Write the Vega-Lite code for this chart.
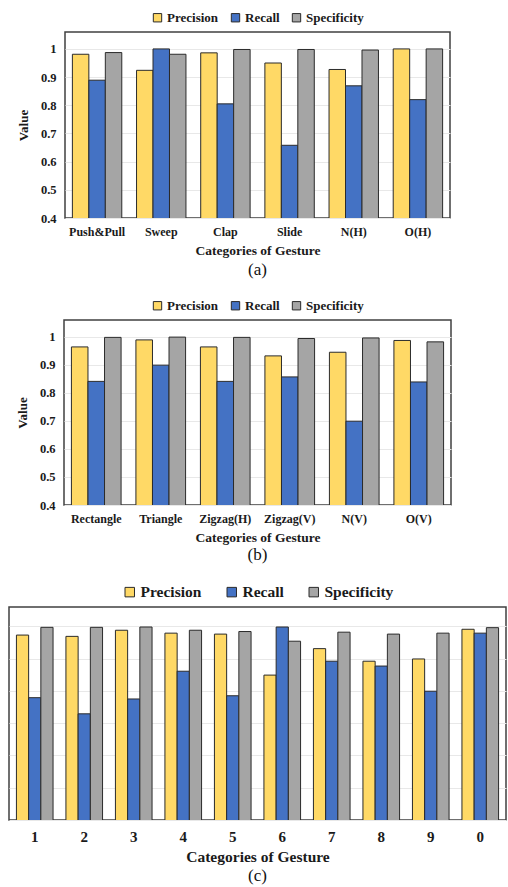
{
  "$schema": "https://vega.github.io/schema/vega-lite/v6.json",
  "autosize": {"type": "pad"},
  "padding": {"left": 8, "top": 10, "right": 0, "bottom": 0},
  "background": "white",
  "datasets": {
    "a": [
      {"g": "Push&Pull", "m": "Precision", "v": 0.981}, {"g": "Push&Pull", "m": "Recall", "v": 0.889}, {"g": "Push&Pull", "m": "Specificity", "v": 0.987},
      {"g": "Sweep", "m": "Precision", "v": 0.924}, {"g": "Sweep", "m": "Recall", "v": 1.0}, {"g": "Sweep", "m": "Specificity", "v": 0.981},
      {"g": "Clap", "m": "Precision", "v": 0.986}, {"g": "Clap", "m": "Recall", "v": 0.805}, {"g": "Clap", "m": "Specificity", "v": 0.998},
      {"g": "Slide", "m": "Precision", "v": 0.95}, {"g": "Slide", "m": "Recall", "v": 0.658}, {"g": "Slide", "m": "Specificity", "v": 0.998},
      {"g": "N(H)", "m": "Precision", "v": 0.927}, {"g": "N(H)", "m": "Recall", "v": 0.869}, {"g": "N(H)", "m": "Specificity", "v": 0.996},
      {"g": "O(H)", "m": "Precision", "v": 1.0}, {"g": "O(H)", "m": "Recall", "v": 0.82}, {"g": "O(H)", "m": "Specificity", "v": 1.0}
    ],
    "b": [
      {"g": "Rectangle", "m": "Precision", "v": 0.964}, {"g": "Rectangle", "m": "Recall", "v": 0.841}, {"g": "Rectangle", "m": "Specificity", "v": 0.998},
      {"g": "Triangle", "m": "Precision", "v": 0.989}, {"g": "Triangle", "m": "Recall", "v": 0.899}, {"g": "Triangle", "m": "Specificity", "v": 0.999},
      {"g": "Zigzag(H)", "m": "Precision", "v": 0.964}, {"g": "Zigzag(H)", "m": "Recall", "v": 0.841}, {"g": "Zigzag(H)", "m": "Specificity", "v": 0.998},
      {"g": "Zigzag(V)", "m": "Precision", "v": 0.932}, {"g": "Zigzag(V)", "m": "Recall", "v": 0.857}, {"g": "Zigzag(V)", "m": "Specificity", "v": 0.994},
      {"g": "N(V)", "m": "Precision", "v": 0.945}, {"g": "N(V)", "m": "Recall", "v": 0.699}, {"g": "N(V)", "m": "Specificity", "v": 0.996},
      {"g": "O(V)", "m": "Precision", "v": 0.987}, {"g": "O(V)", "m": "Recall", "v": 0.839}, {"g": "O(V)", "m": "Specificity", "v": 0.982}
    ],
    "c": [
      {"g": "1", "m": "Precision", "v": 0.973}, {"g": "1", "m": "Recall", "v": 0.779}, {"g": "1", "m": "Specificity", "v": 0.997},
      {"g": "2", "m": "Precision", "v": 0.969}, {"g": "2", "m": "Recall", "v": 0.729}, {"g": "2", "m": "Specificity", "v": 0.997},
      {"g": "3", "m": "Precision", "v": 0.988}, {"g": "3", "m": "Recall", "v": 0.775}, {"g": "3", "m": "Specificity", "v": 0.998},
      {"g": "4", "m": "Precision", "v": 0.979}, {"g": "4", "m": "Recall", "v": 0.861}, {"g": "4", "m": "Specificity", "v": 0.988},
      {"g": "5", "m": "Precision", "v": 0.976}, {"g": "5", "m": "Recall", "v": 0.785}, {"g": "5", "m": "Specificity", "v": 0.984},
      {"g": "6", "m": "Precision", "v": 0.849}, {"g": "6", "m": "Recall", "v": 0.998}, {"g": "6", "m": "Specificity", "v": 0.954},
      {"g": "7", "m": "Precision", "v": 0.931}, {"g": "7", "m": "Recall", "v": 0.892}, {"g": "7", "m": "Specificity", "v": 0.982},
      {"g": "8", "m": "Precision", "v": 0.892}, {"g": "8", "m": "Recall", "v": 0.877}, {"g": "8", "m": "Specificity", "v": 0.976},
      {"g": "9", "m": "Precision", "v": 0.899}, {"g": "9", "m": "Recall", "v": 0.799}, {"g": "9", "m": "Specificity", "v": 0.979},
      {"g": "0", "m": "Precision", "v": 0.991}, {"g": "0", "m": "Recall", "v": 0.979}, {"g": "0", "m": "Specificity", "v": 0.996}
    ]
  },
  "spacing": 102,
  "bounds": "flush",
  "center": true,
  "resolve": {"scale": {"x": "independent", "y": "independent", "color": "independent", "xOffset": "independent"}, "legend": {"color": "independent"}},
  "vconcat": [
    {
      "data": {"name": "a"},
      "width": 385,
      "height": 186,
      "title": {"text": "(a)", "orient": "bottom", "anchor": "middle", "font": "Liberation Serif, Times New Roman, serif", "fontSize": 17, "fontWeight": "normal", "color": "#111", "offset": 5},
      "mark": {"type": "bar", "stroke": "#2b2b2b", "strokeWidth": 1, "clip": true},
      "encoding": {
        "x": {"field": "g", "type": "nominal", "sort": null, "title": "Categories of Gesture",
              "scale": {"paddingInner": 0.23, "paddingOuter": 0.115},
              "axis": {"labelAngle": 0, "labelFontSize": 12, "titleFontSize": 13.5, "labelPadding": 8, "titlePadding": 6}},
        "xOffset": {"field": "m", "type": "nominal", "sort": ["Precision", "Recall", "Specificity"], "scale": {"paddingInner": 0, "paddingOuter": 0}},
        "y": {"field": "v", "type": "quantitative", "title": "Value",
              "scale": {"domain": [0.4, 1.06], "nice": false, "zero": false},
              "axis": {"values": [0.4, 0.5, 0.6, 0.7, 0.8, 0.9, 1.0], "format": ".1~f", "labelFontSize": 12.5, "titleFontSize": 13, "labelPadding": 9, "titlePadding": 10}},
        "color": {"field": "m", "type": "nominal",
                  "scale": {"domain": ["Precision", "Recall", "Specificity"], "range": ["#FFD966", "#4472C4", "#A5A5A5"]},
                  "legend": {"labelFontSize": 13, "columnPadding": 10, "symbolSize": 70, "offset": 7}}
      }
    },
    {
      "data": {"name": "b"},
      "width": 387,
      "height": 185,
      "title": {"text": "(b)", "orient": "bottom", "anchor": "middle", "font": "Liberation Serif, Times New Roman, serif", "fontSize": 17, "fontWeight": "normal", "color": "#111", "offset": 3},
      "mark": {"type": "bar", "stroke": "#2b2b2b", "strokeWidth": 1, "clip": true},
      "encoding": {
        "x": {"field": "g", "type": "nominal", "sort": null, "title": "Categories of Gesture",
              "scale": {"paddingInner": 0.23, "paddingOuter": 0.115},
              "axis": {"labelAngle": 0, "labelFontSize": 12, "titleFontSize": 13.5, "labelPadding": 8, "titlePadding": 6}},
        "xOffset": {"field": "m", "type": "nominal", "sort": ["Precision", "Recall", "Specificity"], "scale": {"paddingInner": 0, "paddingOuter": 0}},
        "y": {"field": "v", "type": "quantitative", "title": "Value",
              "scale": {"domain": [0.4, 1.06], "nice": false, "zero": false},
              "axis": {"values": [0.4, 0.5, 0.6, 0.7, 0.8, 0.9, 1.0], "format": ".1~f", "labelFontSize": 12.5, "titleFontSize": 13, "labelPadding": 9, "titlePadding": 10}},
        "color": {"field": "m", "type": "nominal",
                  "scale": {"domain": ["Precision", "Recall", "Specificity"], "range": ["#FFD966", "#4472C4", "#A5A5A5"]},
                  "legend": {"labelFontSize": 13, "columnPadding": 10, "symbolSize": 70, "offset": 7}}
      }
    },
    {
      "data": {"name": "c"},
      "width": 497,
      "height": 213,
      "title": {"text": "(c)", "orient": "bottom", "anchor": "middle", "font": "Liberation Serif, Times New Roman, serif", "fontSize": 17, "fontWeight": "normal", "color": "#111", "offset": 3},
      "mark": {"type": "bar", "stroke": "#2b2b2b", "strokeWidth": 1, "clip": true},
      "encoding": {
        "x": {"field": "g", "type": "nominal", "sort": null, "title": "Categories of Gesture",
              "scale": {"paddingInner": 0.26, "paddingOuter": 0.15},
              "axis": {"labelAngle": 0, "labelFontSize": 15, "titleFontSize": 15.5, "labelPadding": 9, "titlePadding": 5}},
        "xOffset": {"field": "m", "type": "nominal", "sort": ["Precision", "Recall", "Specificity"], "scale": {"paddingInner": 0, "paddingOuter": 0}},
        "y": {"field": "v", "type": "quantitative", "title": null,
              "scale": {"domain": [0.4, 1.06], "nice": false, "zero": false},
              "axis": {"values": [0.4, 0.5, 0.6, 0.7, 0.8, 0.9, 1.0], "labels": false}},
        "color": {"field": "m", "type": "nominal",
                  "scale": {"domain": ["Precision", "Recall", "Specificity"], "range": ["#FFD966", "#4472C4", "#A5A5A5"]},
                  "legend": {"labelFontSize": 15.5, "columnPadding": 22, "symbolSize": 90, "offset": 6}}
      }
    }
  ],
  "config": {
    "font": "Liberation Serif, Times New Roman, serif",
    "view": {"stroke": "#404040", "strokeWidth": 1.5},
    "axis": {
      "labelFont": "Liberation Serif, Times New Roman, serif", "titleFont": "Liberation Serif, Times New Roman, serif",
      "labelFontWeight": "bold", "titleFontWeight": "bold",
      "labelColor": "#1a1a1a", "titleColor": "#1a1a1a",
      "ticks": false, "tickSize": 0, "domain": false,
      "gridColor": "#E8E8E8", "gridWidth": 1
    },
    "axisX": {"grid": false},
    "axisY": {"grid": true},
    "legend": {
      "orient": "top", "direction": "horizontal", "title": null,
      "labelFont": "Liberation Serif, Times New Roman, serif", "labelFontWeight": "bold", "labelColor": "#1a1a1a",
      "symbolType": "square", "symbolStrokeColor": "#2b2b2b", "symbolStrokeWidth": 1, "symbolOpacity": 1,
      "labelOffset": 3,
      "layout": {"top": {"anchor": "middle"}}
    }
  }
}
